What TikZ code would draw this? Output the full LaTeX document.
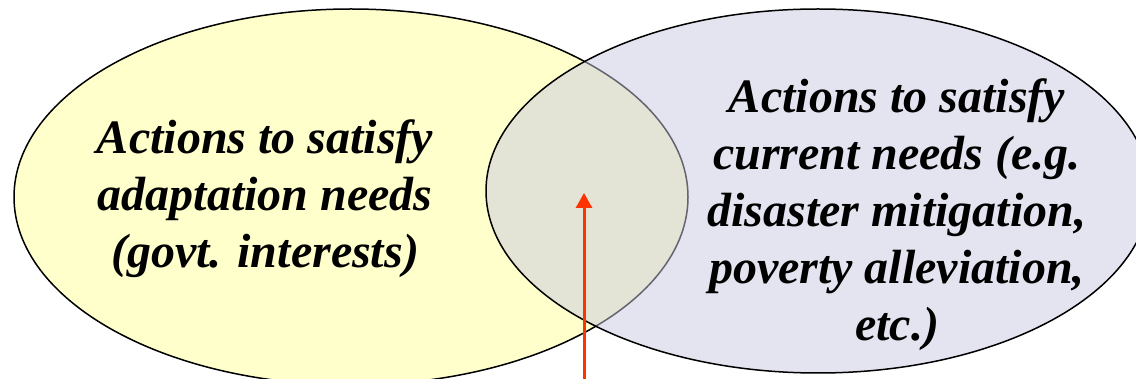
\documentclass[tikz,border=0pt]{standalone}
\usepackage{fontspec}
\setmainfont{LiberationSerif}[Extension=.ttf, UprightFont=*-Regular, BoldFont=*-Bold, ItalicFont=*-Italic, BoldItalicFont=*-BoldItalic]
\usetikzlibrary{arrows.meta}
\definecolor{adaptfill}{RGB}{255,255,204}
\definecolor{currentfill}{RGB}{201,201,225}
\definecolor{arrowred}{RGB}{255,51,0}
\begin{document}
\begin{tikzpicture}[x=1pt, y=-1pt, line join=round,
	vennlabel/.style={font=\fontsize{48}{57}\selectfont\bfseries\itshape, align=center}]
		\useasboundingbox (0,0) rectangle (1136,379);
		\clip (0,0) rectangle (1136,379);
		\coordinate (L) at (351,197);
		\coordinate (R) at (818,191);
		\draw[line width=1.5pt, fill=adaptfill] (L) ellipse (337 and 188);
		\draw[line width=1.5pt, fill=currentfill, fill opacity=.5] (R) ellipse (332 and 182);
		\node[vennlabel] (adapt) at (265,199) {Actions to satisfy\\adaptation needs\\(govt. interests)};
		\node[vennlabel] (current) at (897,215) {Actions to satisfy\\current needs (e.g.\\disaster mitigation,\\poverty alleviation,\\etc.)};
		\coordinate (foot) at (584,379);
		\coordinate (tip) at (584,193);
		\draw[arrowred, line width=3pt, -{Triangle[width=16pt,length=15pt]}] (foot)--(tip);
\end{tikzpicture}
\end{document}
